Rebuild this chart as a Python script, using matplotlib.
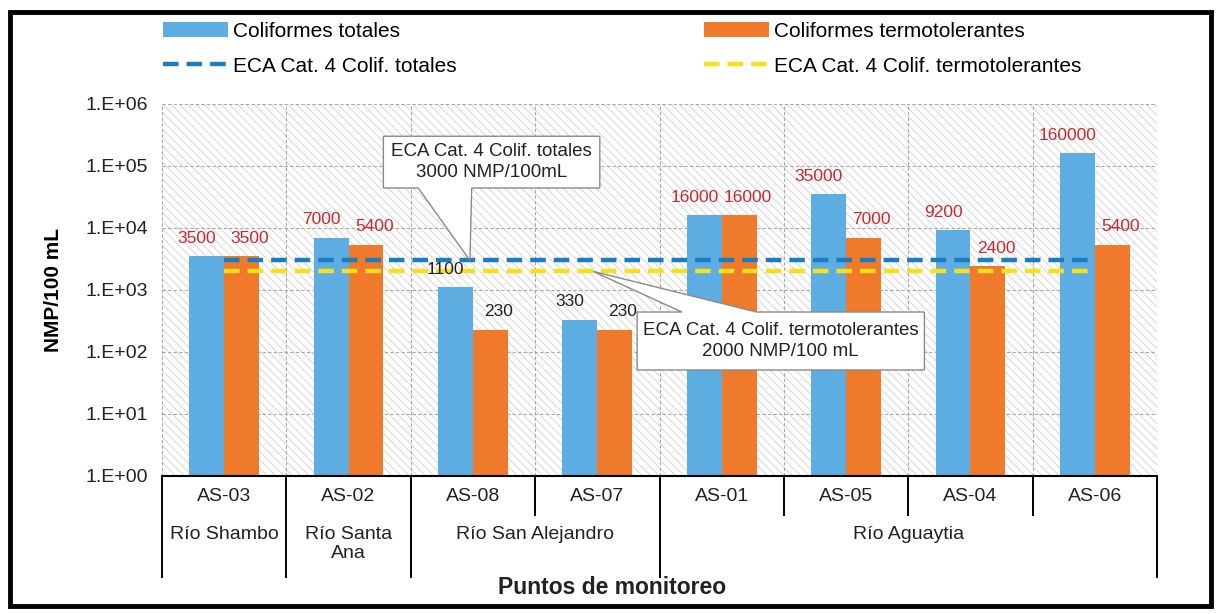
import numpy as np
import matplotlib.pyplot as plt
import matplotlib.transforms as mtransforms
from matplotlib.patches import Rectangle, Polygon
from matplotlib.lines import Line2D
from matplotlib.ticker import FixedLocator, FuncFormatter, NullLocator

plt.rcParams['font.family'] = ['Liberation Sans', 'DejaVu Sans']
plt.rcParams['hatch.linewidth'] = 0.6

puntos = ["AS-03", "AS-02", "AS-08", "AS-07", "AS-01", "AS-05", "AS-04", "AS-06"]
rios = ["Río Shambo", "Río Santa\nAna", "Río San Alejandro", "Río Aguaytia"]
rio_desde = [0, 1, 2, 4]   # first point of each river
rio_hasta = [0, 1, 3, 7]   # last point of each river
col_totales = [3500, 7000, 1100, 330, 16000, 35000, 9200, 160000]
col_termo = [3500, 5400, 230, 230, 16000, 7000, 2400, 5400]
eca_totales = 3000
eca_termo = 2000

BLUE = "#5dade2"
ORANGE = "#f07a2c"
LINE_BLUE = "#1a7cc1"
LINE_YELLOW = "#f7e017"
RED = "#d0262c"

fig = plt.figure(figsize=(12.19, 6.14), dpi=100)
ax = fig.add_axes([162 / 1219, 1 - 476 / 614, 995 / 1219, 372 / 614])

# outer frame
fig.patches.append(Rectangle((0.0085, 0.013), 0.985, 0.967, transform=fig.transFigure,
                             fill=False, edgecolor="black", linewidth=3.5))

# hatched plot background
ax.add_patch(Rectangle((0, 0), 1, 1, transform=ax.transAxes, facecolor="white",
                       edgecolor="#cfcfcf", hatch="\\\\\\\\", linewidth=0, zorder=0))

x = np.arange(len(puntos))
w = 0.28
b1 = ax.bar(x - w / 2, col_totales, w, color=BLUE, zorder=3)
b2 = ax.bar(x + w / 2, col_termo, w, color=ORANGE, zorder=3)

l1, = ax.plot(x, [eca_totales] * len(x), color=LINE_BLUE, lw=3.2, dashes=(3.5, 1.8), zorder=4)
l2, = ax.plot(x, [eca_termo] * len(x), color=LINE_YELLOW, lw=3.2, dashes=(3.5, 1.8), zorder=4)

# value labels: red when above the ECA limit
for xi, v in zip(x - w / 2, col_totales):
    ax.annotate(str(v), (xi, v), xytext=(-7, 13), textcoords="offset points", ha="center",
                va="center", fontsize=12.5, color=RED if v > eca_totales else "#222222", zorder=6)
for xi, v in zip(x + w / 2, col_termo):
    ax.annotate(str(v), (xi, v), xytext=(6, 13), textcoords="offset points", ha="center",
                va="center", fontsize=12.5, color=RED if v > eca_termo else "#222222", zorder=6)

ax.set_yscale("log")
ax.set_ylim(1, 1e6)
ax.set_xlim(-0.5, len(puntos) - 0.5)
ax.yaxis.set_major_locator(FixedLocator([10.0 ** k for k in range(7)]))
ax.yaxis.set_minor_locator(NullLocator())
ax.yaxis.set_major_formatter(FuncFormatter(lambda v, _: "1.E+%02d" % round(np.log10(v))))
ax.tick_params(axis="y", length=0, labelsize=14, pad=10, labelcolor="#222222")
ax.set_xticks(np.arange(len(puntos) + 1) - 0.5)
ax.set_xticklabels([])
ax.tick_params(axis="x", length=0)
ax.grid(True, color="#a8a8a8", linestyle=(0, (3, 2)), linewidth=0.8, zorder=1)
ax.set_axisbelow(True)
for s in ["left", "right", "top"]:
    ax.spines[s].set_visible(False)
ax.spines["bottom"].set_linewidth(1.5)
ax.spines["bottom"].set_zorder(5)

ax.set_ylabel("NMP/100 mL", fontsize=15, fontweight="bold", labelpad=16)

# category table below the axis
tr = mtransforms.blended_transform_factory(ax.transData, ax.transAxes)
for xi, p in zip(x, puntos):
    ax.text(xi, -0.056, p, transform=tr, ha="center", va="center", fontsize=14, color="#222222")
group_edges = set()
for r, a, b in zip(rios, rio_desde, rio_hasta):
    ax.text((a + b) / 2, -0.135, r, transform=tr, ha="center", va="top", fontsize=14,
            color="#222222", linespacing=1.15)
    group_edges.add(a - 0.5)
    group_edges.add(b + 0.5)
for e in np.arange(len(puntos) + 1) - 0.5:
    bottom = -0.272 if e in group_edges else -0.105
    ax.plot([e, e], [0, bottom], transform=tr, color="black", lw=1.4, clip_on=False)
ax.text(0.452, -0.30, "Puntos de monitoreo", transform=ax.transAxes, ha="center", va="center",
        fontsize=16.5, fontweight="bold", color="#222222")


def callout(box, base, tip, text, pointer_down):
    x0, x1, y0, y1 = box
    bl, br = base
    if pointer_down:
        verts = [(x0, y1), (x1, y1), (x1, y0), (br, y0), tip, (bl, y0), (x0, y0)]
    else:
        verts = [(x0, y1), (bl, y1), tip, (br, y1), (x1, y1), (x1, y0), (x0, y0)]
    ax.add_patch(Polygon(verts, closed=True, facecolor="white", edgecolor="#8a8a8a", lw=1.0, zorder=7))
    ax.text((x0 + x1) / 2, np.sqrt(y0 * y1), text, ha="center", va="center", fontsize=13.5,
            color="#222222", linespacing=1.3, zorder=8)


callout((1.28, 3.02, 10 ** 4.645, 10 ** 5.48), (1.56, 1.99), (1.976, eca_totales),
        "ECA Cat. 4 Colif. totales\n3000 NMP/100mL", True)
callout((3.32, 5.63, 10 ** 1.71, 10 ** 2.645), (3.68, 4.28), (2.965, eca_termo),
        "ECA Cat. 4 Colif. termotolerantes\n2000 NMP/100 mL", False)

# legends (two columns)
h_line1 = Line2D([], [], color=LINE_BLUE, lw=3.2, dashes=(3.5, 1.8))
h_line2 = Line2D([], [], color=LINE_YELLOW, lw=3.2, dashes=(3.5, 1.8))
leg_kw = dict(frameon=False, fontsize=15, handlelength=3.1, handletextpad=0.25,
              labelspacing=0.75, borderpad=0, borderaxespad=0, loc="upper left")
fig.legend([b1, h_line1], ["Coliformes totales", "ECA Cat. 4 Colif. totales"],
           bbox_to_anchor=(163 / 1219, 1 - 22 / 614), **leg_kw)
fig.legend([b2, h_line2], ["Coliformes termotolerantes", "ECA Cat. 4 Colif. termotolerantes"],
           bbox_to_anchor=(704 / 1219, 1 - 22 / 614), **leg_kw)

fig.savefig("out.png", dpi=100)
